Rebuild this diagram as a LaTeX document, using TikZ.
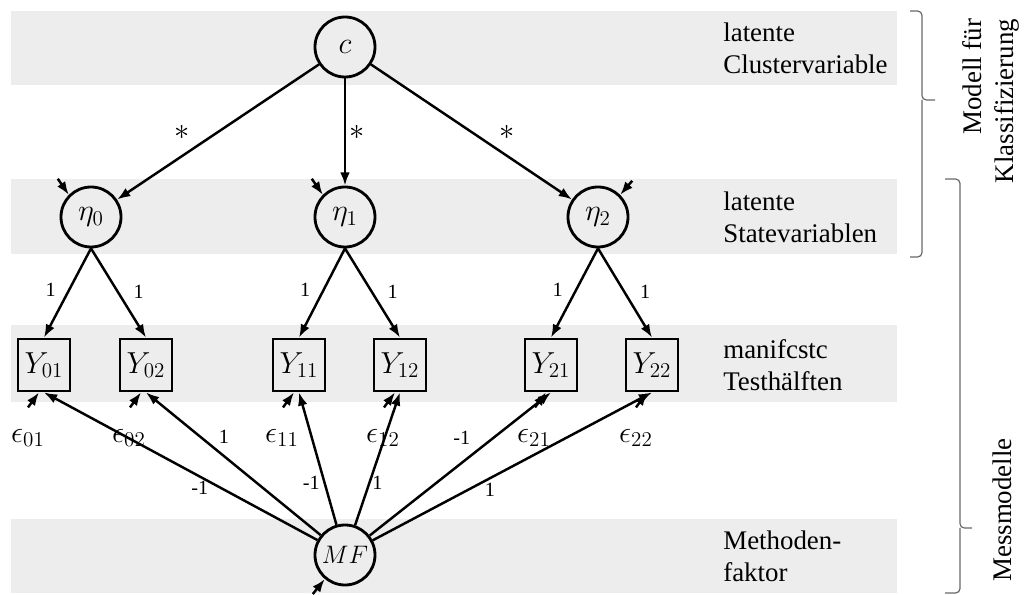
\documentclass[tikz,border=0pt]{standalone}
\usepackage{fontspec}
\setmainfont{Liberation Serif}
\usetikzlibrary{arrows.meta}

\definecolor{bandgray}{RGB}{237,237,237}
\definecolor{bracegray}{RGB}{105,105,105}

\tikzset{
  latent/.style={circle,draw,line width=1.6pt,minimum size=1.2cm,inner sep=0pt,
    font=\fontsize{17}{20}\selectfont},
  manifest/.style={rectangle,draw,line width=1.6pt,minimum size=1.04cm,inner sep=0pt,
    font=\fontsize{17}{20}\selectfont},
  arr/.style={-{Latex[length=7.5pt,width=5.5pt]},line width=1.4pt},
  coef/.style={font=\fontsize{11.5}{13}\selectfont,inner sep=2pt},
  star/.style={font=\fontsize{18}{20}\selectfont,inner sep=1pt},
  errlab/.style={font=\fontsize{17}{20}\selectfont,inner sep=0pt},
  rowlabel/.style={anchor=west,align=left,inner sep=0pt,font=\fontsize{15.3}{18.1}\selectfont},
  brace/.style={draw=bracegray,line width=0.7pt,rounded corners=2.5pt},
}

\begin{document}
\begin{tikzpicture}[x=1cm,y=1cm]
\useasboundingbox (0,0) rectangle (20.54,-11.9);

% grey bands
\fill[bandgray] (0.22,-0.22) rectangle (17.94,-1.70);
\fill[bandgray] (0.22,-3.58) rectangle (17.94,-5.08);
\fill[bandgray] (0.22,-6.50) rectangle (17.94,-8.04);
\fill[bandgray] (0.22,-10.38) rectangle (17.94,-11.86);

% variables
\node[latent] (c) at (6.9,-0.94) {$c$};
\node[latent] (eta0) at (1.82,-4.34) {$\eta_0$};
\node[latent] (eta1) at (6.9,-4.34) {$\eta_1$};
\node[latent] (eta2) at (11.96,-4.34) {$\eta_2$};

\node[manifest] (y01) at (0.88,-7.30) {$Y_{01}$};
\node[manifest] (y02) at (2.92,-7.30) {$Y_{02}$};
\node[manifest] (y11) at (5.98,-7.30) {$Y_{11}$};
\node[manifest] (y12) at (8.00,-7.30) {$Y_{12}$};
\node[manifest] (y21) at (11.02,-7.30) {$Y_{21}$};
\node[manifest] (y22) at (13.04,-7.30) {$Y_{22}$};

\node[latent,font=\fontsize{13.5}{16}\selectfont] (mf) at (6.9,-11.10) {$MF$};

\node[errlab] (e01) at (0.56,-8.76) {$\epsilon_{01}$};
\node[errlab] (e02) at (2.58,-8.76) {$\epsilon_{02}$};
\node[errlab] (e11) at (5.64,-8.76) {$\epsilon_{11}$};
\node[errlab] (e12) at (7.66,-8.76) {$\epsilon_{12}$};
\node[errlab] (e21) at (10.68,-8.76) {$\epsilon_{21}$};
\node[errlab] (e22) at (12.72,-8.76) {$\epsilon_{22}$};

% cluster -> states
\draw[arr] (c) -- node[star,midway,left=0.5cm] (s0) {$*$} (eta0);
\draw[arr] (c) -- node[star,midway,right=1pt] (s1) {$*$} (eta1);
\draw[arr] (c) -- node[star,midway,right=0.5cm] (s2) {$*$} (eta2);

% states -> test halves
\draw[arr] (eta0.south) -- node[coef,pos=0.47,left=0.17cm] (k01) {1} (y01.north);
\draw[arr] (eta0.south) -- node[coef,pos=0.49,right=0.22cm] (k02) {1} (y02.north);
\draw[arr] (eta1.south) -- node[coef,pos=0.47,left=0.17cm] (k11) {1} (y11.north);
\draw[arr] (eta1.south) -- node[coef,pos=0.49,right=0.22cm] (k12) {1} (y12.north);
\draw[arr] (eta2.south) -- node[coef,pos=0.47,left=0.17cm] (k21) {1} (y21.north);
\draw[arr] (eta2.south) -- node[coef,pos=0.49,right=0.22cm] (k22) {1} (y22.north);

% method factor
\draw[arr] (mf) -- node[coef,pos=0.43,below] (m01) {-1} (y01.south);
\draw[arr] (mf) -- node[coef,pos=0.61,above right] (m02) {1} (y02.south);
\draw[arr] (mf) -- node[coef,pos=0.32,left] (m11) {-1} (y11.south);
\draw[arr] (mf) -- node[coef,pos=0.32,right,inner sep=1pt] (m12) {1} (y12.south);
\draw[arr] (mf) -- node[coef,pos=0.59,above left=1pt] (m21) {-1} (y21.south);
\draw[arr] (mf) -- node[coef,pos=0.42,below] (m22) {1} (y22.south);

% residuals
\draw[arr] ([shift={(-0.22,0.32)}]eta0.135) -- (eta0.135);
\draw[arr] ([shift={(-0.22,0.32)}]eta1.135) -- (eta1.135);
\draw[arr] ([shift={(0.24,0.28)}]eta2.45) -- (eta2.45);
\foreach \y in {y01,y02,y11,y12,y21,y22}
  \draw[arr] ([shift={(-0.32,-0.30)}]\y.south) -- ([xshift=-0.1cm]\y.south);
\draw[arr] ([shift={(-0.24,-0.30)}]mf.230) -- (mf.230);

% row labels
\node[rowlabel] (r1) at (14.46,-0.96) {latente\\Clustervariable};
\node[rowlabel] (r2) at (14.46,-4.34) {latente\\Statevariablen};
\node[rowlabel] (r3) at (14.46,-7.30) {manifcstc\\Testhälften};
\node[rowlabel] (r4) at (14.46,-11.12) {Methoden-\\faktor};

% braces
\draw[brace] (18.20,-0.22) -- (18.44,-0.22) -- (18.44,-2.00) -- (18.70,-2.00);
\draw[brace] (18.44,-2.00) -- (18.44,-5.14) -- (18.20,-5.14);
\draw[brace] (18.90,-3.58) -- (19.20,-3.58) -- (19.20,-10.56) -- (19.44,-10.56);
\draw[brace] (19.20,-10.56) -- (19.20,-11.86) -- (18.90,-11.86);

\node[rotate=90,align=right,inner sep=0pt,font=\fontsize{15.3}{18.1}\selectfont] (klass) at (19.82,-2.02) {Modell für\\Klassifizierung};
\node[rotate=90,inner sep=0pt,font=\fontsize{15.3}{18.1}\selectfont] (mess) at (20.04,-10.20) {Messmodelle};
\end{tikzpicture}
\end{document}
